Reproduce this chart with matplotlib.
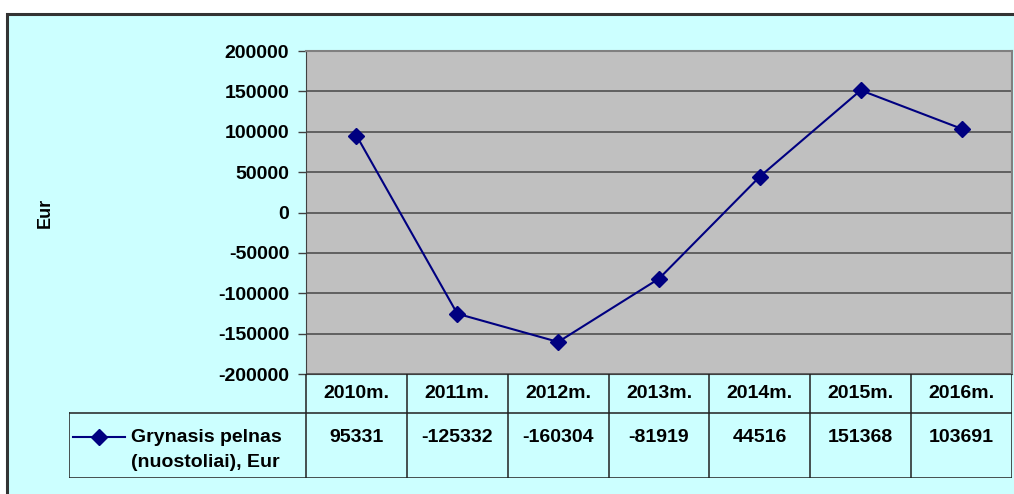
import matplotlib
matplotlib.use("Agg")
import matplotlib.pyplot as plt
from matplotlib.patches import Rectangle
from matplotlib.lines import Line2D

# ---- data ----
years = ["2010m.", "2011m.", "2012m.", "2013m.", "2014m.", "2015m.", "2016m."]
profit = [95331, -125332, -160304, -81919, 44516, 151368, 103691]
series_label = ["Grynasis pelnas", "(nuostoliai), Eur"]
y_ticks = [-200000, -150000, -100000, -50000, 0, 50000, 100000, 150000, 200000]

W, H = 1014, 494
FONT = "Liberation Sans"
NAVY = "#000080"
FS = 14
plt.rcParams["font.family"] = [FONT, "DejaVu Sans"]


def fx(px):
    return px / W


def fy(py):
    return 1 - py / H


fig = plt.figure(figsize=(W / 100, H / 100), dpi=100, facecolor="white")

# outer chart area (cyan, dark frame, runs off right/bottom edges)
fig.patches.append(Rectangle((fx(7), fy(H + 10)), fx(W + 20), fy(14) - fy(H + 10),
                             transform=fig.transFigure, facecolor="#CCFFFF",
                             edgecolor="#333333", linewidth=2.2, zorder=-5))

# ---- plot area ----
L, R, T, B = 306, 1012, 51, 374
ax = fig.add_axes([fx(L), fy(B), fx(R - L), fy(T) - fy(B)])
ax.set_facecolor("#C0C0C0")
ax.set_xlim(-0.5, len(years) - 0.5)
ax.set_ylim(-200000, 200000)
ax.set_yticks(y_ticks)
ax.set_yticklabels([str(v) for v in y_ticks], fontsize=FS, fontweight="bold")
ax.set_xticks([])
for v in y_ticks:
    ax.axhline(v, color="#505050", linewidth=1.2, zorder=1)
ax.tick_params(axis="y", length=6, width=1, color="#404040", pad=6)
for s in ["top", "right"]:
    ax.spines[s].set_color("#808080")
    ax.spines[s].set_linewidth(1.5)
ax.spines["left"].set_color("#404040")
ax.spines["bottom"].set_color("#404040")
ax.plot(range(len(years)), profit, color=NAVY, linewidth=1.5, marker="D",
        markersize=8.5, markerfacecolor=NAVY, markeredgecolor=NAVY, zorder=3)
fig.text(fx(45), fy(213), "Eur", rotation=90, ha="center", va="center",
         fontsize=FS - 1, fontweight="bold")

# ---- data table below the plot ----
TL, TB, TM = 69, 478, 413
unit = (R - L) / len(years)
tax = fig.add_axes([fx(TL), fy(TB), fx(R - TL), fy(B) - fy(TB)])
tax.set_xlim(-0.5 - (L - TL) / unit, len(years) - 0.5)
tax.set_ylim(TB, B)
tax.axis("off")
lc = "#202020"
lw = 1.1
x0 = -0.5 - (L - TL) / unit
tax.plot([x0, len(years) - 0.5], [TB, TB], color=lc, lw=lw)
tax.plot([x0, len(years) - 0.5], [TM, TM], color=lc, lw=lw)
tax.plot([x0, x0], [TM, TB], color=lc, lw=lw)
for i in range(len(years) + 1):
    tax.plot([i - 0.5, i - 0.5], [B, TB], color=lc, lw=lw)
for i, (yr, v) in enumerate(zip(years, profit)):
    tax.text(i, 393, yr, ha="center", va="center", fontsize=FS, fontweight="bold")
    tax.text(i, 437, str(v), ha="center", va="center", fontsize=FS, fontweight="bold")

# legend key inside the table
lx0 = x0 + 4 / unit
lx1 = x0 + 56 / unit
tax.add_line(Line2D([lx0, lx1], [437, 437], color=NAVY, lw=1.5))
tax.plot([(lx0 + lx1) / 2], [437], marker="D", markersize=8.5, color=NAVY)
tax.text(x0 + 62 / unit, 437, series_label[0], ha="left", va="center",
         fontsize=FS, fontweight="bold")
tax.text(x0 + 62 / unit, 462, series_label[1], ha="left", va="center",
         fontsize=FS, fontweight="bold")

fig.savefig("out.png", dpi=100)
